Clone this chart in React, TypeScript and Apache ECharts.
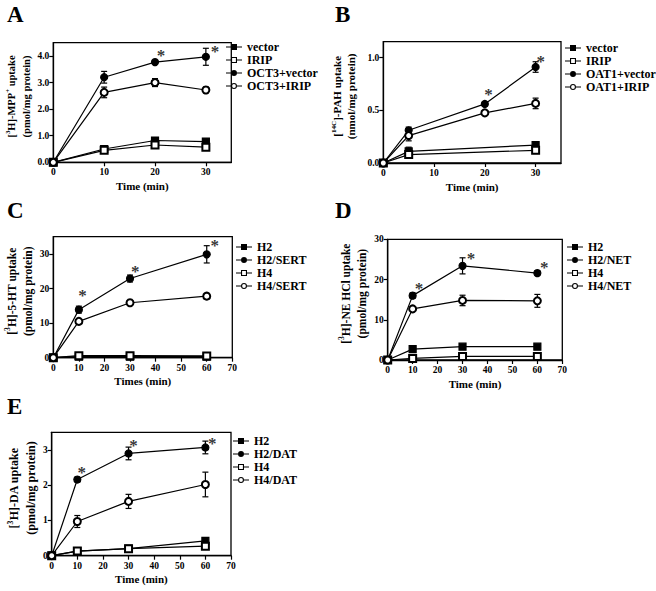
import React, { useEffect, useRef } from "react";
import * as echarts from "echarts";

const FONT = "Liberation Serif";

// ---------- Panel A ----------
const timesA = [0, 10, 20, 30];
const vectorA = [0, 0.5, 0.82, 0.78];
const vectorAErr = [0, 0.05, 0.08, 0.05];
const iripA = [0, 0.45, 0.65, 0.57];
const iripAErr = [0, 0.08, 0.06, 0.06];
const oct3VectorA = [0, 3.2, 3.77, 3.97];
const oct3VectorAErr = [0, 0.22, 0.03, 0.32];
const oct3IripA = [0, 2.63, 3.0, 2.72];
const oct3IripAErr = [0, 0.2, 0.15, 0.11];
const starsA = [[21.2, 4.17], [31.8, 4.33]];

// ---------- Panel B ----------
const timesBCtrl = [0, 5, 30];
const timesBOat = [0, 5, 20, 30];
const vectorB = [0, 0.11, 0.17];
const vectorBErr = [0, 0.04, 0.03];
const iripB = [0, 0.08, 0.12];
const iripBErr = [0, 0.02, 0.03];
const oat1VectorB = [0, 0.31, 0.56, 0.91];
const oat1VectorBErr = [0, 0.03, 0.02, 0.05];
const oat1IripB = [0, 0.26, 0.475, 0.565];
const oat1IripBErr = [0, 0.05, 0.01, 0.05];
const starsB = [[20.7, 0.69], [31, 1.0]];

// ---------- Panel C ----------
const timesC = [0, 10, 30, 60];
const h2C = [0, 0.3, 0.3, 0.3];
const h2CErr = [0, 0, 0, 0];
const h2SertC = [0, 13.9, 22.9, 29.9];
const h2SertCErr = [0, 1.0, 1.0, 2.5];
const h4C = [0, 0.6, 0.6, 0.5];
const h4CErr = [0, 0, 0, 0];
const h4SertC = [0, 10.5, 15.9, 17.8];
const h4SertCErr = [0, 0.3, 0.4, 0.8];
const starsC = [[11.4, 19.2], [32, 26], [63.1, 33.5]];

// ---------- Panel D ----------
const timesD = [0, 10, 30, 60];
const h2D = [0, 2.7, 3.3, 3.3];
const h2DErr = [0, 0.3, 0.5, 0.3];
const h2NetD = [0, 16.0, 23.4, 21.6];
const h2NetDErr = [0, 0.7, 2.0, 0.6];
const h4D = [0, 0.4, 0.9, 0.9];
const h4DErr = [0, 0.1, 0.1, 0.1];
const h4NetD = [0, 12.7, 14.8, 14.7];
const h4NetDErr = [0, 0.3, 1.3, 1.6];
const starsD = [[12.5, 18.7], [33.4, 26.1], [62.8, 24]];

// ---------- Panel E ----------
const timesE = [0, 10, 30, 60];
const h2E = [0, 0.13, 0.2, 0.42];
const h2EErr = [0, 0.03, 0.03, 0.04];
const h2DatE = [0, 2.16, 2.9, 3.07];
const h2DatEErr = [0, 0.07, 0.18, 0.18];
const h4E = [0, 0.13, 0.2, 0.27];
const h4EErr = [0, 0.03, 0.03, 0.04];
const h4DatE = [0, 0.97, 1.54, 2.02];
const h4DatEErr = [0, 0.17, 0.2, 0.35];
const starsE = [[11.7, 2.46], [31.9, 3.24], [62.7, 3.3]];

const legendA = ["vector", "IRIP", "OCT3+vector", "OCT3+IRIP"];
const legendB = ["vector", "IRIP", "OAT1+vector", "OAT1+IRIP"];
const legendC = ["H2", "H2/SERT", "H4", "H4/SERT"];
const legendD = ["H2", "H2/NET", "H4", "H4/NET"];
const legendE = ["H2", "H2/DAT", "H4", "H4/DAT"];

const FILLED_SQ = "rect";
const OPEN_SQ = "emptyRect";
const FILLED_CI = "circle";
const OPEN_CI = "emptyCircle";

// legend icons: short line with the marker in its middle (16 x 6 box)
const SEGS = "M0,2.4H5V3.6H0Z M11,2.4H16V3.6H11Z ";
const ICONS: Record<string, string> = {
  rect: "path://" + SEGS + "M5,0H11V6H5Z",
  emptyRect: "path://" + SEGS + "M5,0H11V6H5Z M6.1,1.1V4.9H9.9V1.1Z",
  circle: "path://" + SEGS + "M5,3A3,3 0 1,0 11,3A3,3 0 1,0 5,3Z",
  emptyCircle: "path://" + SEGS + "M5,3A3,3 0 1,0 11,3A3,3 0 1,0 5,3Z M6.1,3A1.9,1.9 0 1,1 9.9,3A1.9,1.9 0 1,1 6.1,3Z",
};

type Curve = { name: string; xs: number[]; ys: number[]; err: number[]; symbol: string };

function lineSeries(c: Curve, idx: number) {
  return {
    type: "line",
    name: c.name,
    xAxisIndex: idx,
    yAxisIndex: idx,
    data: c.xs.map((x, i) => [x, c.ys[i]]),
    symbol: c.symbol,
    symbolSize: 7,
    lineStyle: { color: "#000", width: 1.2 },
    itemStyle: { color: "#000", borderColor: "#000", borderWidth: 1.2 },
    z: 3,
  };
}

function errSeries(c: Curve, idx: number) {
  return {
    type: "custom",
    xAxisIndex: idx,
    yAxisIndex: idx,
    z: 2,
    silent: true,
    data: c.xs.map((x, i) => [x, c.ys[i] - c.err[i], c.ys[i] + c.err[i]]).filter((d) => d[2] - d[1] > 0),
    renderItem: (params: any, api: any) => {
      const x = api.value(0);
      const top = api.coord([x, api.value(2)]);
      const bot = api.coord([x, api.value(1)]);
      const cap = 3;
      const st = { stroke: "#000", lineWidth: 1.2 };
      return {
        type: "group",
        children: [
          { type: "line", shape: { x1: top[0], y1: top[1], x2: bot[0], y2: bot[1] }, style: st },
          { type: "line", shape: { x1: top[0] - cap, y1: top[1], x2: top[0] + cap, y2: top[1] }, style: st },
          { type: "line", shape: { x1: bot[0] - cap, y1: bot[1], x2: bot[0] + cap, y2: bot[1] }, style: st },
        ],
      };
    },
  };
}

function starSeries(stars: number[][], idx: number) {
  return {
    type: "scatter",
    xAxisIndex: idx,
    yAxisIndex: idx,
    symbolSize: 1,
    silent: true,
    itemStyle: { color: "rgba(0,0,0,0)" },
    data: stars,
    label: {
      show: true,
      position: "inside",
      formatter: "*",
      fontFamily: FONT,
      fontWeight: "bold",
      fontSize: 17,
      color: "#000",
      offset: [0, 4],
    },
    z: 4,
  };
}

const panels = [
  {
    grid: { left: 53.3, top: 42.7, width: 178, height: 119.6 },
    xMax: 35, yMax: 4.5, yInterval: 1, yDec: 1, xName: "Time (min)",
    yName: "[{sup|3}H]-MPP{sup|+} uptake\n(pmol/mg protein)", yGap: 17, yFont: 10.5, yLH: 15,
    legend: legendA, legendPos: [226, 40.5],
    curves: [
      { name: "vector", xs: timesA, ys: vectorA, err: vectorAErr, symbol: FILLED_SQ },
      { name: "IRIP", xs: timesA, ys: iripA, err: iripAErr, symbol: OPEN_SQ },
      { name: "OCT3+vector", xs: timesA, ys: oct3VectorA, err: oct3VectorAErr, symbol: FILLED_CI },
      { name: "OCT3+IRIP", xs: timesA, ys: oct3IripA, err: oct3IripAErr, symbol: OPEN_CI },
    ],
    stars: starsA, letter: "A", letterPos: [7, 3],
  },
  {
    grid: { left: 383.3, top: 41.7, width: 177.7, height: 121.3 },
    xMax: 35, yMax: 1.15, yInterval: 0.5, yDec: 1, xName: "Time (min)",
    yName: "[{sup|14C}]-PAH uptake\n(nmol/mg protein)", yGap: 25, yFont: 11, yLH: 14,
    legend: legendB, legendPos: [565, 41.5],
    curves: [
      { name: "vector", xs: timesBCtrl, ys: vectorB, err: vectorBErr, symbol: FILLED_SQ },
      { name: "IRIP", xs: timesBCtrl, ys: iripB, err: iripBErr, symbol: OPEN_SQ },
      { name: "OAT1+vector", xs: timesBOat, ys: oat1VectorB, err: oat1VectorBErr, symbol: FILLED_CI },
      { name: "OAT1+IRIP", xs: timesBOat, ys: oat1IripB, err: oat1IripBErr, symbol: OPEN_CI },
    ],
    stars: starsB, letter: "B", letterPos: [335, 3],
  },
  {
    grid: { left: 53.3, top: 236.7, width: 179, height: 121 },
    xMax: 70, yMax: 35, yInterval: 10, yDec: 0, xName: "Times (min)",
    yName: "[{sup|3}H]-5-HT uptake\n(pmol/mg protein)", yGap: 14, yFont: 11.5, yLH: 16,
    legend: legendC, legendPos: [236, 240.5],
    curves: [
      { name: "H2", xs: timesC, ys: h2C, err: h2CErr, symbol: FILLED_SQ },
      { name: "H2/SERT", xs: timesC, ys: h2SertC, err: h2SertCErr, symbol: FILLED_CI },
      { name: "H4", xs: timesC, ys: h4C, err: h4CErr, symbol: OPEN_SQ },
      { name: "H4/SERT", xs: timesC, ys: h4SertC, err: h4SertCErr, symbol: OPEN_CI },
    ],
    stars: starsC, letter: "C", letterPos: [7, 199],
  },
  {
    grid: { left: 387.7, top: 239.3, width: 174.6, height: 120.7 },
    xMax: 70, yMax: 30, yInterval: 10, yDec: 0, xName: "Time (min)",
    yName: "[{sup|3}H]-NE HCl uptake\n(pmol/mg protein)", yGap: 17, yFont: 11.5, yLH: 16,
    legend: legendD, legendPos: [567, 240.5],
    curves: [
      { name: "H2", xs: timesD, ys: h2D, err: h2DErr, symbol: FILLED_SQ },
      { name: "H2/NET", xs: timesD, ys: h2NetD, err: h2NetDErr, symbol: FILLED_CI },
      { name: "H4", xs: timesD, ys: h4D, err: h4DErr, symbol: OPEN_SQ },
      { name: "H4/NET", xs: timesD, ys: h4NetD, err: h4NetDErr, symbol: OPEN_CI },
    ],
    stars: starsD, letter: "D", letterPos: [335, 199],
  },
  {
    grid: { left: 51.7, top: 432.3, width: 179.3, height: 123.4 },
    xMax: 70, yMax: 3.5, yInterval: 1, yDec: 0, xName: "Time (min)",
    yName: "[{sup|3}H]-DA uptake\n(pmol/mg protein)", yGap: 12, yFont: 12, yLH: 16.5,
    legend: legendE, legendPos: [233, 434.5],
    curves: [
      { name: "H2", xs: timesE, ys: h2E, err: h2EErr, symbol: FILLED_SQ },
      { name: "H2/DAT", xs: timesE, ys: h2DatE, err: h2DatEErr, symbol: FILLED_CI },
      { name: "H4", xs: timesE, ys: h4E, err: h4EErr, symbol: OPEN_SQ },
      { name: "H4/DAT", xs: timesE, ys: h4DatE, err: h4DatEErr, symbol: OPEN_CI },
    ],
    stars: starsE, letter: "E", letterPos: [7, 395],
  },
];

function buildOption() {
  const axisLine = { show: true, lineStyle: { color: "#000", width: 1.3 } };
  const axisTick = { show: true, length: 4, lineStyle: { color: "#000", width: 1.2 } };
  const lbl = { fontFamily: FONT, fontWeight: "bold", fontSize: 9.5, color: "#000" };
  const grid: any[] = [];
  const xAxis: any[] = [];
  const yAxis: any[] = [];
  const legend: any[] = [];
  const series: any[] = [];
  const graphic: any[] = [];
  panels.forEach((p, idx) => {
    grid.push({ ...p.grid, show: true, borderColor: "#000", borderWidth: 1.3, backgroundColor: "transparent" });
    xAxis.push({
      type: "value", gridIndex: idx, min: 0, max: p.xMax, interval: 10,
      axisLine, axisTick, splitLine: { show: false },
      axisLabel: { ...lbl, margin: 5, showMaxLabel: p.xMax % 10 === 0 },
      name: p.xName, nameLocation: "middle", nameGap: 18,
      nameTextStyle: { fontFamily: FONT, fontWeight: "bold", fontSize: 11, color: "#000" },
    });
    yAxis.push({
      type: "value", gridIndex: idx, min: 0, max: p.yMax, interval: p.yInterval,
      axisLine, axisTick, splitLine: { show: false },
      axisLabel: {
        ...lbl, margin: 4,
        showMaxLabel: Math.abs(p.yMax / p.yInterval - Math.round(p.yMax / p.yInterval)) < 1e-9,
        formatter: (v: number) => v.toFixed(p.yDec),
      },
      name: p.yName, nameLocation: "middle", nameGap: p.yGap,
      nameTextStyle: {
        fontFamily: FONT, fontWeight: "bold", fontSize: p.yFont, color: "#000", lineHeight: p.yLH,
        padding: [0, 0, 0, 12],
        rich: {
          sup: { fontFamily: FONT, fontWeight: "bold", fontSize: p.yFont * 0.65, color: "#000", verticalAlign: "top", lineHeight: p.yLH },
        },
      },
    });
    legend.push({
      orient: "vertical", left: p.legendPos[0], top: p.legendPos[1],
      itemWidth: 16, itemHeight: 6, itemGap: 0, padding: 0, selectedMode: false,
      itemStyle: { color: "#000", borderWidth: 0 },
      data: p.legend.map((name) => {
        const c = p.curves.find((cc) => cc.name === name)!;
        return { name, icon: ICONS[c.symbol] };
      }),
      textStyle: { fontFamily: FONT, fontWeight: "bold", fontSize: 12, color: "#000", lineHeight: 13 },
    });
    p.curves.forEach((c) => {
      series.push(errSeries(c, idx));
      series.push(lineSeries(c, idx));
    });
    series.push(starSeries(p.stars, idx));
    graphic.push({
      type: "text", left: p.letterPos[0], top: p.letterPos[1],
      style: { text: p.letter, fontFamily: FONT, fontWeight: "bold", fontSize: 23, fill: "#000" },
    });
  });
  return { animation: false, backgroundColor: "#fff", grid, xAxis, yAxis, legend, series, graphic };
}

export default function App() {
  const ref = useRef<HTMLDivElement>(null);
  useEffect(() => {
    if (!ref.current) return;
    const chart = echarts.init(ref.current, null, { renderer: "svg" });
    chart.setOption(buildOption() as any);
    return () => chart.dispose();
  }, []);
  return <div ref={ref} style={{ position: "fixed", left: 0, top: 0, width: 656, height: 591 }} />;
}
